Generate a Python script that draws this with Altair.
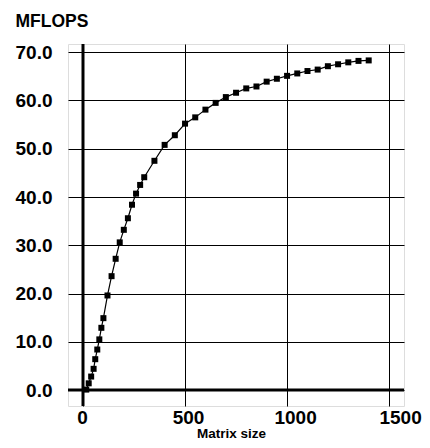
import altair as alt
import pandas as pd

matrix_size = [16, 28, 40, 52, 60, 70, 80, 90, 100, 120, 140, 160, 180, 200,
               220, 240, 260, 280, 300, 350, 400, 450, 500, 550, 600, 650,
               700, 750, 800, 850, 900, 950, 1000, 1050, 1100, 1150, 1200,
               1250, 1300, 1350, 1400]
mflops = [0.1, 1.4, 2.8, 4.4, 6.4, 8.4, 10.5, 12.9, 14.9, 19.6, 23.6, 27.2,
          30.6, 33.2, 35.6, 38.4, 40.7, 42.5, 44.1, 47.5, 50.8, 52.8, 55.2,
          56.5, 58.1, 59.5, 60.7, 61.6, 62.5, 62.9, 63.9, 64.5, 65.1, 65.6,
          66.1, 66.4, 67.1, 67.5, 67.9, 68.2, 68.3]
x_ticks = [0, 500, 1000, 1500]
y_ticks = [0, 10, 20, 30, 40, 50, 60, 70]

df = pd.DataFrame({"size": matrix_size, "mflops": mflops})
zero = pd.DataFrame({"v": [0]})

FONT = "Liberation Sans"

xscale = alt.Scale(domain=[-73.5, 1573], nice=False, zero=False)
yscale = alt.Scale(domain=[-3.3, 71.7], nice=False, zero=False)

xaxis = alt.Axis(
    values=x_ticks, format="d", grid=True, gridColor="black", gridOpacity=1,
    gridWidth=1, ticks=False, domain=False, labelFont=FONT, labelFontSize=19,
    labelFontWeight="bold", labelColor="black", labelPadding=2,
    labelOffset={"condition": [
        {"test": "datum.value == 0", "value": -1},
        {"test": "datum.value == 500", "value": 3},
        {"test": "datum.value == 1000", "value": 8}], "value": 11},
    title="Matrix size", titleFont=FONT, titleFontSize=13.5,
    titleFontWeight="bold", titleColor="black", titleX=163, titleY=31,
    titleAlign="center", titleBaseline="alphabetic")
yaxis = alt.Axis(
    values=y_ticks, format=".1f", grid=True, gridColor="black",
    gridOpacity=1, gridWidth=1, ticks=False, domain=False, labelFont=FONT,
    labelFontSize=19, labelFontWeight="bold", labelColor="black",
    labelPadding=16, title="MFLOPS", titleFont=FONT, titleFontSize=17.5,
    titleFontWeight="bold", titleColor="black", titleAngle=0, titleX=-53,
    titleY=-18, titleAlign="left", titleBaseline="alphabetic")

base = alt.Chart(df).encode(
    x=alt.X("size:Q", scale=xscale, axis=xaxis),
    y=alt.Y("mflops:Q", scale=yscale, axis=yaxis),
)
line = base.mark_line(color="black", strokeWidth=1.2)
pts = base.mark_square(color="black", filled=True, size=36, opacity=1)

vzero = alt.Chart(zero).mark_rule(color="black", strokeWidth=3).encode(
    x=alt.X("v:Q", scale=xscale))
hzero = alt.Chart(zero).mark_rule(color="black", strokeWidth=3).encode(
    y=alt.Y("v:Q", scale=yscale))

chart = alt.layer(line, vzero, hzero, pts).properties(
    width=336, height=362,
    autosize=alt.AutoSizeParams(type="none"),
    padding={"left": 60, "top": 36, "right": 18, "bottom": 34},
).configure_view(stroke="black", strokeWidth=1.5).configure(background="white")

chart.save("out.html", embed_options={"renderer": "svg", "actions": False})
